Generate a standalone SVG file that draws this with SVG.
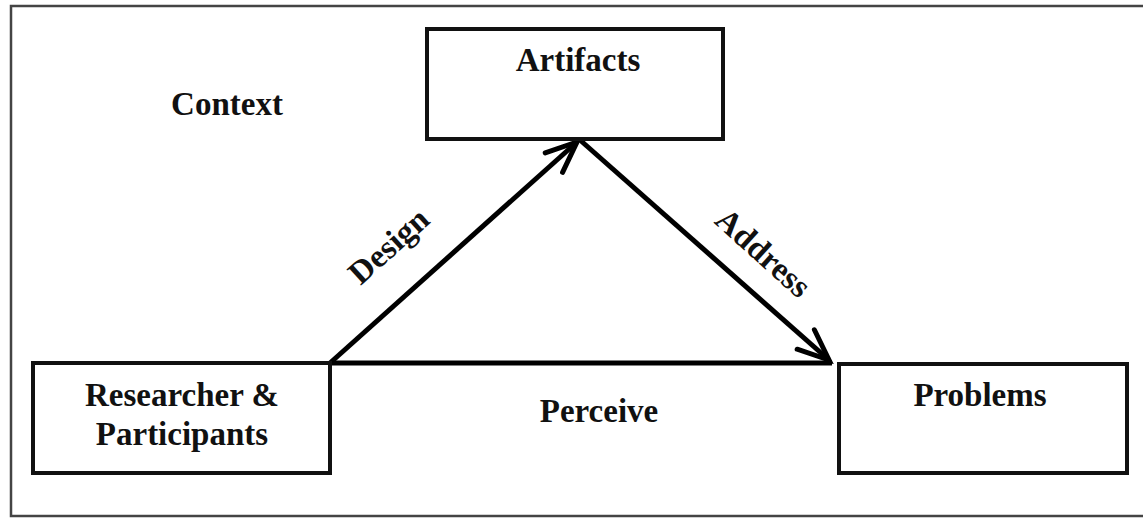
<svg xmlns="http://www.w3.org/2000/svg" width="1143" height="518" viewBox="0 0 1143 518">
  <style>
    .box { fill: #fff; stroke: #111; stroke-width: 4; }
    .lbl { font-family: "Liberation Serif", "Times New Roman", serif; font-weight: bold; font-size: 33px; fill: #111; text-anchor: middle; }
    .conn { stroke: #000; stroke-width: 5; fill: none; }
  </style>
  <defs>
    <marker id="arrow" markerUnits="userSpaceOnUse" markerWidth="44" markerHeight="44" viewBox="-38 -22 44 44" refX="0" refY="0" orient="auto">
      <path d="M -31 -13 L 0 0 L -31 13" fill="none" stroke="#000" stroke-width="5" stroke-linejoin="miter" stroke-linecap="round"/>
    </marker>
  </defs>
  <rect width="1143" height="518" fill="#fff"/>
  <rect id="frame" x="11" y="6" width="1200" height="510" fill="none" stroke="#444" stroke-width="2.5"/>
  <text id="context" class="lbl" x="227" y="115">Context</text>

  <g id="connectors">
    <path class="conn" d="M 330 363 L 832 363" stroke-width="6"/>
    <path class="conn" d="M 330 363 L 577 142" marker-end="url(#arrow)"/>
    <path class="conn" d="M 580 140 L 829 360" marker-end="url(#arrow)"/>
    <text class="lbl" transform="translate(396 254) rotate(-42)">Design</text>
    <text class="lbl" transform="translate(756 261) rotate(42)">Address</text>
    <text class="lbl" x="599" y="422">Perceive</text>
  </g>

  <g id="artifacts">
    <rect class="box" x="427" y="29" width="296" height="110"/>
    <text class="lbl" x="578" y="71">Artifacts</text>
  </g>
  <g id="researcher">
    <rect class="box" x="33" y="363" width="297" height="110"/>
    <text class="lbl" x="182" y="406">Researcher &amp;</text>
    <text class="lbl" x="182" y="445">Participants</text>
  </g>
  <g id="problems">
    <rect class="box" x="839" y="364" width="288" height="109"/>
    <text class="lbl" x="980" y="406">Problems</text>
  </g>
</svg>
